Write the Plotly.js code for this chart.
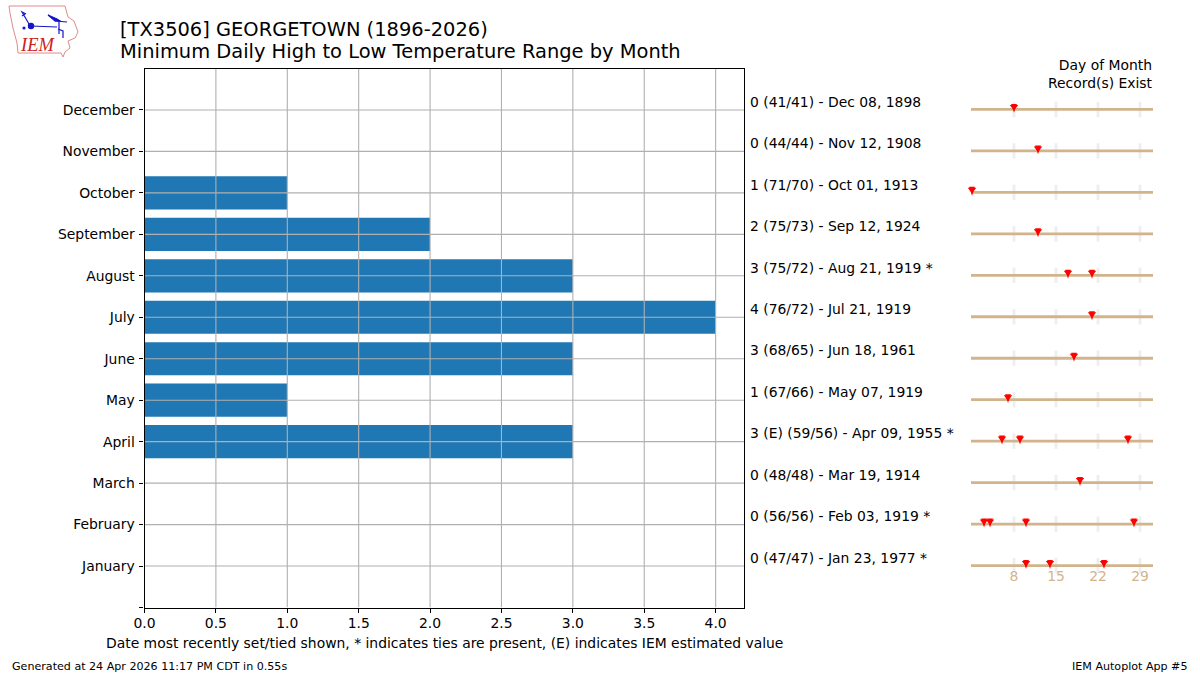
<!DOCTYPE html>
<html>
<head>
<meta charset="utf-8">
<script src="https://cdn.plot.ly/plotly-3.0.1.min.js"></script>
<style>html,body{margin:0;padding:0;background:#fff}#c{width:1200px;height:675px}</style>
</head>
<body>
<div id="c"></div>
<script>
const months = ["January","February","March","April","May","June","July","August","September","October","November","December"];
const rows = [1,2,3,4,5,6,7,8,9,10,11,12];
const ranges = [0,0,0,3,1,3,4,3,2,1,0,0];
const recordLabels = [
  "0 (47/47) - Jan 23, 1977 *","0 (56/56) - Feb 03, 1919 *","0 (48/48) - Mar 19, 1914",
  "3 (E) (59/56) - Apr 09, 1955 *","1 (67/66) - May 07, 1919","3 (68/65) - Jun 18, 1961",
  "4 (76/72) - Jul 21, 1919","3 (75/72) - Aug 21, 1919 *","2 (75/73) - Sep 12, 1924",
  "1 (71/70) - Oct 01, 1913","0 (44/44) - Nov 12, 1908","0 (41/41) - Dec 08, 1898"];
const recordDays = [[10,14,23],[3,4,10,28],[19],[6,9,27],[7],[18],[21],[17,21],[12],[1],[12],[8]];
const dayTicks = [8,15,22,29];
const xTicks = [0,0.5,1,1.5,2,2.5,3,3.5,4];

const W=1200,H=675;
const px=x=>x/W, py=y=>1-y/H;
const font={family:"DejaVu Sans",size:13.9,color:"#000"};
const gridLine={color:"#b0b0b0",width:1.1};
const traces=[];
traces.push({type:"bar",orientation:"h",x:ranges,y:rows,width:0.8,marker:{color:"#1f77b4",line:{width:0}},xaxis:"x",yaxis:"y",hoverinfo:"skip"});
// the grid runs over the bars, so it is drawn as line traces after them
xTicks.slice(1).forEach(v=>traces.push({type:"scatter",mode:"lines",x:[v,v],y:[0,13],xaxis:"x",yaxis:"y",line:gridLine,hoverinfo:"skip"}));
rows.forEach(r=>traces.push({type:"scatter",mode:"lines",x:[0,4.2],y:[r,r],xaxis:"x",yaxis:"y",line:gridLine,hoverinfo:"skip"}));
rows.forEach((r,i)=>{
  traces.push({type:"scatter",mode:"markers",x:dayTicks,y:dayTicks.map(()=>r),xaxis:"x2",yaxis:"y2",
    marker:{symbol:"line-ns",size:11,color:"#eeeeee",line:{color:"#eeeeee",width:2.8}},hoverinfo:"skip"});
  traces.push({type:"scatter",mode:"lines",x:[0.83,31.17],y:[r,r],xaxis:"x2",yaxis:"y2",line:{color:"#d2b48c",width:2.8},hoverinfo:"skip"});
  // plotly's triangle is wider than it is tall: a triangle for the top and an arrow for the tip give an even marker
  traces.push({type:"scatter",mode:"markers",x:recordDays[i],y:recordDays[i].map(()=>r+0.065),xaxis:"x2",yaxis:"y2",cliponaxis:false,
    marker:{symbol:"triangle-down",size:7.4,color:"#ff0000",line:{width:0}},hoverinfo:"skip"});
  traces.push({type:"scatter",mode:"markers",x:recordDays[i],y:recordDays[i].map(()=>r-0.082),xaxis:"x2",yaxis:"y2",cliponaxis:false,
    marker:{symbol:"arrow",angle:180,size:9.4,color:"#ff0000",line:{width:0}},hoverinfo:"skip"});
});

const annotations=[];
const txt=(s,x,y,o={})=>annotations.push(Object.assign({text:s,xref:"paper",yref:"paper",x:px(x),y:py(y),showarrow:false,xanchor:"left",yanchor:"middle",align:"left",font:font,borderpad:0},o));
const titleFont={family:"DejaVu Sans",size:19.44,color:"#000"};
const smallFont={family:"DejaVu Sans",size:11.1,color:"#000"};
txt("[TX3506] GEORGETOWN (1896-2026)",119,29,{font:titleFont});
txt("Minimum Daily High to Low Temperature Range by Month",119,51,{font:titleFont});
txt("Day of Month<br>Record(s) Exist",1154,73.5,{xanchor:"right",align:"right"});
rows.forEach((r,i)=>annotations.push({text:recordLabels[i],xref:"paper",yref:"y",x:px(748),y:r,yshift:8.3,showarrow:false,xanchor:"left",yanchor:"middle",font:font}));
txt("Date most recently set/tied shown, * indicates ties are present, (E) indicates IEM estimated value",105,643);
txt("Generated at 24 Apr 2026 11:17 PM CDT in 0.55s",11,666,{font:smallFont});
txt("IEM Autoplot App #5",1188,666,{xanchor:"right",font:smallFont});
txt("<i>IEM</i>",19,45,{font:{family:"Liberation Serif",size:18.5,color:"#cc2222"}});

const logo=`<svg xmlns="http://www.w3.org/2000/svg" width="90" height="65" viewBox="0 0 90 65">
<path d="M9 6 L65 6 L68 17 L74 21 L78 32 L75 38 L68 41 L70 48 L65 52 L63 57 L61 53 L18 53 L17 43 L13 28 L10 13 Z" fill="none" stroke="#e08a8a" stroke-width="1"/>
<g stroke="#1515c8" fill="#1515c8" stroke-width="1.2">
<line x1="31" y1="26" x2="57" y2="27"/><circle cx="31" cy="26" r="2.6"/>
<path d="M48 15 L57 19 L60 21 L55 21 Z"/><line x1="55" y1="21" x2="67" y2="22"/>
<line x1="59" y1="21" x2="59" y2="34"/><path d="M58 29 L63 31 L63 38" fill="none"/>
<path d="M29 24 L22 12 L26 14 M22 16 L25 14" fill="none"/><circle cx="24" cy="28" r="1"/>
</g></svg>`;

const layout={
  width:W,height:H,margin:{l:0,r:0,t:0,b:0},paper_bgcolor:"#fff",plot_bgcolor:"#fff",showlegend:false,barmode:"overlay",
  font:font,
  xaxis:{domain:[px(144.5),px(744.2)],range:[0,4.2],tickvals:xTicks,ticktext:xTicks.map(v=>v.toFixed(1)),ticks:"outside",ticklen:4.9,tickwidth:1.1,tickcolor:"#000",ticklabelstandoff:-2,
    showgrid:false,zeroline:false,showline:true,linecolor:"#000",linewidth:1.1,mirror:true,anchor:"y",tickfont:font},
  yaxis:{domain:[py(607.5),py(68.5)],range:[0,13],tickvals:[0].concat(rows),ticktext:[""].concat(months),ticks:"outside",ticklen:4.9,tickwidth:1.1,tickcolor:"#000",ticklabelstandoff:1,
    showgrid:false,zeroline:false,showline:true,linecolor:"#000",linewidth:1.1,mirror:true,anchor:"x",tickfont:font},
  xaxis2:{domain:[px(971),px(1153)],range:[0.83,31.17],tickvals:dayTicks,ticks:"",showgrid:false,zeroline:false,showline:false,anchor:"free",position:py(566.4),side:"bottom",
    tickfont:{family:"DejaVu Sans",size:13.9,color:"#d2b48c"}},
  yaxis2:{domain:[py(607),py(68)],range:[0,13],visible:false,anchor:"x2"},
  annotations:annotations,
  images:[{source:"data:image/svg+xml;base64,"+btoa(logo),xref:"paper",yref:"paper",x:0,y:1,sizex:90/W,sizey:65/H,xanchor:"left",yanchor:"top",sizing:"stretch",layer:"above"}]
};
Plotly.newPlot("c",traces,layout,{displayModeBar:false,responsive:false});
</script>
</body>
</html>
